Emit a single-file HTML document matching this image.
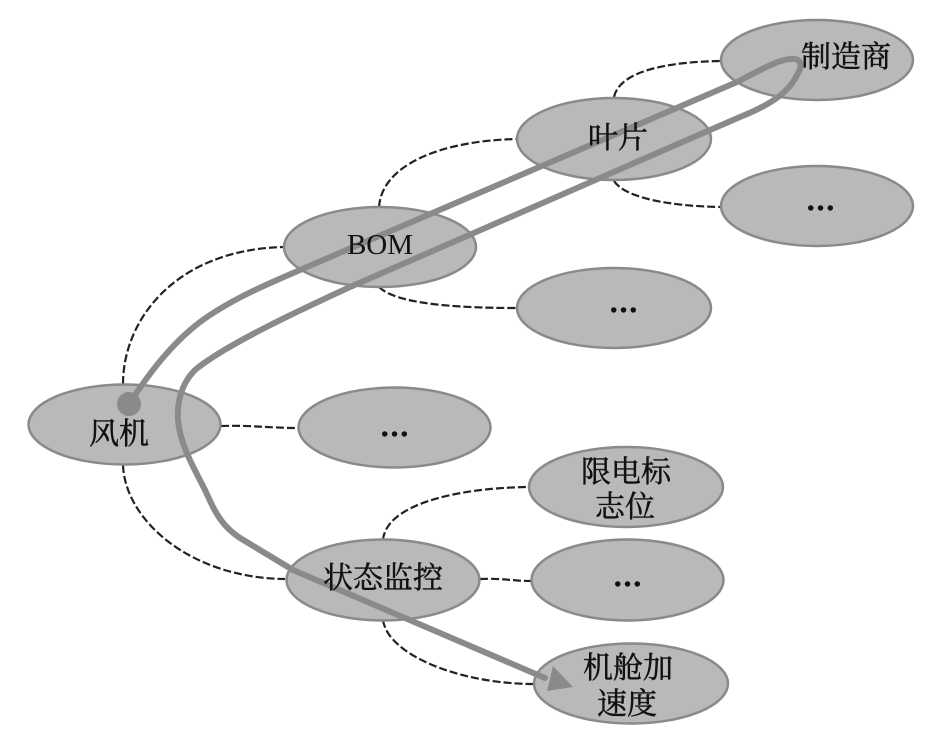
<!DOCTYPE html>
<html><head><meta charset="utf-8"><style>
html,body{margin:0;padding:0;background:#fff}
svg{display:block}
.e{fill:#b9b9b9;stroke:#8a8a8a;stroke-width:2.5}
.d{fill:none;stroke:#222;stroke-width:2.2;stroke-dasharray:8 3}
.t{fill:none;stroke:#8a8a8a;stroke-width:6;stroke-linecap:round;stroke-linejoin:round}
text{font-family:"Liberation Serif","Noto Serif CJK SC",serif;font-size:30px;fill:#111;stroke:#111;stroke-width:.5;text-anchor:middle}
.m{font-weight:bold;font-size:29px;font-family:"Liberation Serif",serif;stroke-width:.8}
.b{font-size:29px;stroke-width:0}
</style></head><body>
<svg width="945" height="747" viewBox="0 0 945 747" xmlns="http://www.w3.org/2000/svg">
<rect width="945" height="747" fill="#fff"/>
<path class="d" d="M123 384C123 320 175 250 283 247"/>
<path class="d" d="M379 207C382 165 440 141 516 139"/>
<path class="d" d="M379 287C395 303 450 308 516 308"/>
<path class="d" d="M614 97C620 70 670 62 720 61"/>
<path class="d" d="M614 181C625 198 670 206 720 207"/>
<path class="d" d="M221 426C250 425 270 428 298 428"/>
<path class="d" d="M123 465C125 520 190 578 285 579"/>
<path class="d" d="M383 540C386 505 455 488 528 487"/>
<path class="d" d="M480 579C500 578 515 581 531 581"/>
<path class="d" d="M383 620C388 655 460 684 534 684"/>
<ellipse class="e" cx="817" cy="60" rx="96" ry="40"/>
<ellipse class="e" cx="614" cy="139" rx="97" ry="41"/>
<ellipse class="e" cx="817" cy="206" rx="96" ry="40"/>
<ellipse class="e" cx="380" cy="247" rx="96" ry="40"/>
<ellipse class="e" cx="614" cy="308" rx="97" ry="40"/>
<ellipse class="e" cx="124.500" cy="424.500" rx="96" ry="40"/>
<ellipse class="e" cx="394.500" cy="427.500" rx="96" ry="40"/>
<ellipse class="e" cx="626" cy="487" rx="97" ry="40"/>
<ellipse class="e" cx="627.500" cy="580" rx="96" ry="40.500"/>
<ellipse class="e" cx="631" cy="683.500" rx="97" ry="40"/>
<ellipse class="e" cx="383" cy="580" rx="96.500" ry="40.500"/>
<path class="t" d="M129 404C148 375 170 345 200 322C230 300 265 285 300 270L737 82C760 70 778 60 790 59C802 58 803 65 797 75C790 90 775 103 740 117L710 130L350 287C300 310 225 345 195 370C180 385 177 405 178 420C180 445 195 470 205 490C215 512 222 528 245 541L293 570L545 678"/>
<polygon points="573,687 553,666 547,691" fill="#8a8a8a"/>
<circle cx="129" cy="404" r="12" fill="#8a8a8a"/>
<text x="846" y="67">制造商</text>
<text x="618" y="148">叶片</text>
<text class="m" x="820.500" y="210">…</text>
<text class="b" x="380" y="254">BOM</text>
<text class="m" x="623.500" y="312">…</text>
<text x="119" y="444">风机</text>
<text class="m" x="394.500" y="436">…</text>
<text x="626" y="482">限电标</text>
<text x="625" y="517">志位</text>
<text x="383" y="588">状态监控</text>
<text class="m" x="627.500" y="586">…</text>
<text x="628" y="678">机舱加</text>
<text x="627" y="714">速度</text>
</svg>
</body></html>
